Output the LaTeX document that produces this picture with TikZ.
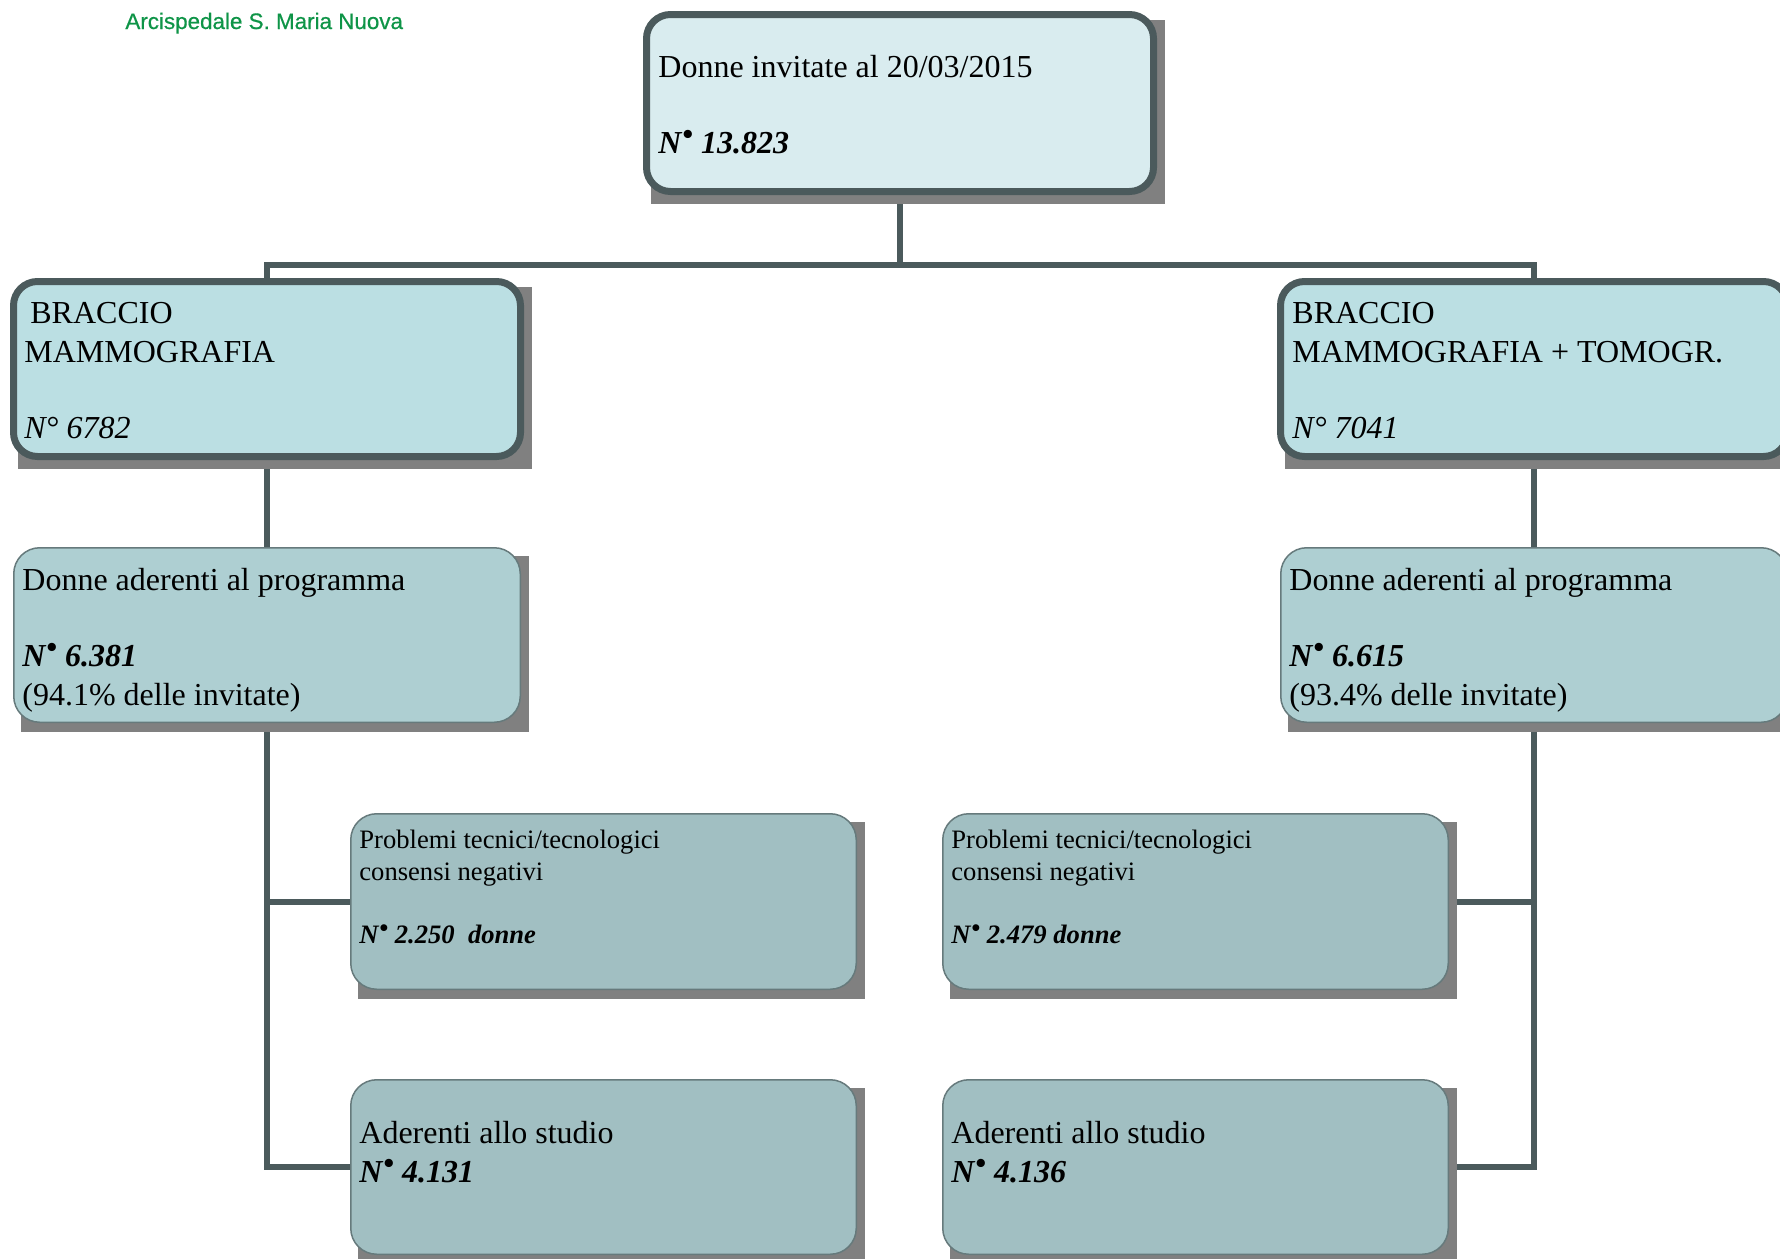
\documentclass[tikz,border=0pt]{standalone}
\usepackage{fontspec}
\usepackage{graphicx}
\setmainfont{Liberation Serif}
\newfontfamily\hdrfont[FakeBold=0.6]{Liberation Sans}
\usetikzlibrary{backgrounds}
\definecolor{topfill}{HTML}{D9ECEF}
\definecolor{brfill}{HTML}{BBDFE3}
\definecolor{adfill}{HTML}{AECFD2}
\definecolor{lowfill}{HTML}{A1BFC2}
\definecolor{bordc}{HTML}{4B5A5C}
\definecolor{thinc}{HTML}{667A7C}
\definecolor{shadc}{HTML}{808080}
\definecolor{hdrgreen}{HTML}{0E9447}
\newcommand{\nbul}{N\kern0.03em\raisebox{0.26em}{\scalebox{0.95}{•}}}
\begin{document}
\begin{tikzpicture}[x=0.5pt,y=-0.5pt,
  thickbox/.style={draw=bordc, line width=3.5pt, rounded corners=12pt, inner sep=0pt},
  thinbox/.style={draw=thinc, line width=0.75pt, rounded corners=13pt, inner sep=0pt},
  conn/.style={draw=bordc, line width=3pt},
  shad/.style={fill=shadc},
  bigtxt/.style={anchor=base west, inner sep=0pt, font=\fontsize{16}{19}\selectfont},
  smalltxt/.style={anchor=base west, inner sep=0pt, font=\fontsize{13.3}{16}\selectfont},
  hdr/.style={anchor=base west, inner sep=0pt, text=hdrgreen, font=\hdrfont\fontsize{11.2}{13}\selectfont}
]
\useasboundingbox (0,0) rectangle (1780,1258);
\clip (0,0) rectangle (1780,1258);

% header
\node[hdr] (hdr) at (125,29) {Arcispedale S. Maria Nuova};

% boxes
\node[thickbox, fill=topfill, minimum width=253.5pt, minimum height=88.5pt] (top) at (900,103) {};
\node[thickbox, fill=brfill, minimum width=253.5pt, minimum height=87.5pt] (b1) at (267,369) {};
\node[thickbox, fill=brfill, minimum width=253.5pt, minimum height=87.5pt] (b2) at (1534,369) {};
\node[thinbox, fill=adfill, minimum width=253.25pt, minimum height=87.25pt] (a1) at (267,635) {};
\node[thinbox, fill=adfill, minimum width=253.25pt, minimum height=87.25pt] (a2) at (1534,635) {};
\node[thinbox, fill=lowfill, minimum width=252.75pt, minimum height=87.75pt] (p1) at (603.5,901.5) {};
\node[thinbox, fill=lowfill, minimum width=252.75pt, minimum height=87.75pt] (p2) at (1195.5,901.5) {};
\node[thinbox, fill=lowfill, minimum width=252.75pt, minimum height=87.25pt] (s1) at (603.5,1167) {};
\node[thinbox, fill=lowfill, minimum width=252.75pt, minimum height=87.25pt] (s2) at (1195.5,1167) {};

% connectors and shadows
\coordinate (bar) at (900,265);
\begin{scope}[on background layer]
  \draw[conn] (top.south) -- (bar) -| (b1.north);
  \draw[conn] (bar) -| (b2.north);
  \draw[conn] (b1.south) -- (a1.north);
  \draw[conn] (b2.south) -- (a2.north);
  \draw[conn] (a1.south) |- (p1.west);
  \draw[conn] (a1.south) |- (s1.west);
  \draw[conn] (a2.south) |- (p2.east);
  \draw[conn] (a2.south) |- (s2.east);
  \foreach \n in {top,b1,b2,a1,a2,p1,p2,s1,s2}
    \fill[shad] ([shift={(8,9)}]\n.north west) rectangle ([shift={(8,9)}]\n.south east);
\end{scope}

% texts
\node[bigtxt] (top1) at (658,77) {Donne invitate al 20/03/2015};
\node[bigtxt] (top2) at (658,153) {\textbf{\textit{\nbul{} 13.823}}};

\node[bigtxt] (b1a) at (30,323) {BRACCIO};
\node[bigtxt] (b1b) at (24,362) {MAMMOGRAFIA};
\node[bigtxt] (b1c) at (24,438) {\textit{N° 6782}};

\node[bigtxt] (b2a) at (1292,323) {BRACCIO};
\node[bigtxt] (b2b) at (1292,362) {MAMMOGRAFIA + TOMOGR.};
\node[bigtxt] (b2c) at (1292,438) {\textit{N° 7041}};

\node[bigtxt] (a1a) at (22,590) {Donne aderenti al programma};
\node[bigtxt] (a1b) at (22,666) {\textbf{\textit{\nbul{} 6.381}}};
\node[bigtxt] (a1c) at (22,705) {(94.1\% delle invitate)};

\node[bigtxt] (a2a) at (1289,590) {Donne aderenti al programma};
\node[bigtxt] (a2b) at (1289,666) {\textbf{\textit{\nbul{} 6.615}}};
\node[bigtxt] (a2c) at (1289,705) {(93.4\% delle invitate)};

\node[smalltxt] (p1a) at (359,848) {Problemi tecnici/tecnologici};
\node[smalltxt] (p1b) at (359,880) {consensi negativi};
\node[smalltxt] (p1c) at (359,943) {\textbf{\textit{\nbul{} 2.250~ donne}}};

\node[smalltxt] (p2a) at (951,848) {Problemi tecnici/tecnologici};
\node[smalltxt] (p2b) at (951,880) {consensi negativi};
\node[smalltxt] (p2c) at (951,943) {\textbf{\textit{\nbul{} 2.479 donne}}};

\node[bigtxt] (s1a) at (359,1143) {Aderenti allo studio};
\node[bigtxt] (s1b) at (359,1182) {\textbf{\textit{\nbul{} 4.131}}};

\node[bigtxt] (s2a) at (951,1143) {Aderenti allo studio};
\node[bigtxt] (s2b) at (951,1182) {\textbf{\textit{\nbul{} 4.136}}};
\end{tikzpicture}
\end{document}
